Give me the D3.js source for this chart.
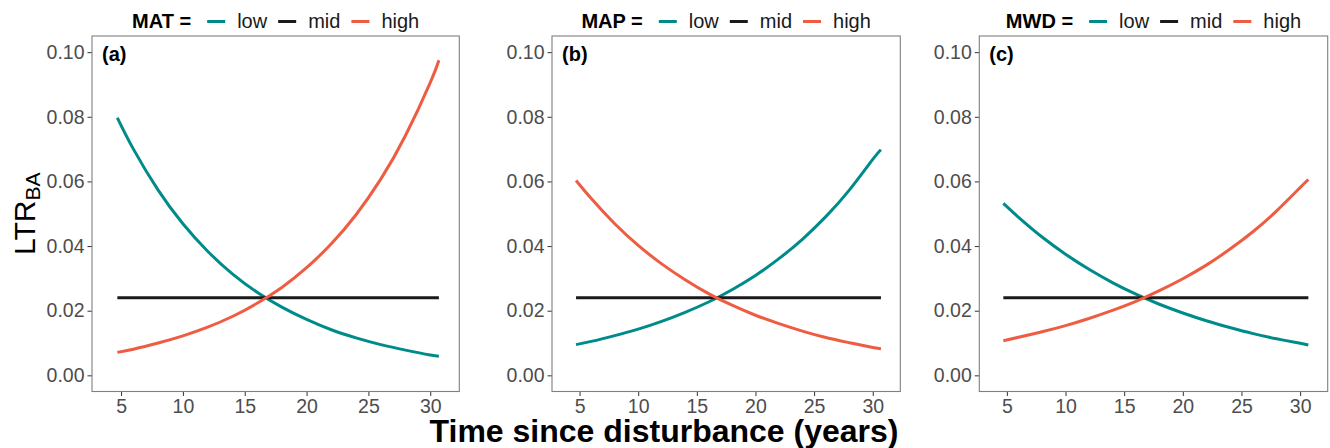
<!DOCTYPE html>
<html>
<head>
<meta charset="utf-8">
<script src="https://cdn.jsdelivr.net/npm/d3@7"></script>
<style>
  body { margin: 0; background: #fff; }
  text { font-family: "Liberation Sans", Arial, sans-serif; }
</style>
</head>
<body>
<div id="container"></div>
<script>
// Data
var years = [4.7, 6, 8, 10, 12, 14, 16, 18, 20, 22, 24, 26, 28, 30, 30.7];
var levels = ["low", "mid", "high"];
var drivers = ["MAT", "MAP", "MWD"];
var panelLabels = ["(a)", "(b)", "(c)"];

var matLow  = [0.0797, 0.0700, 0.0573, 0.0469, 0.0384, 0.0314, 0.0257, 0.0211, 0.0173, 0.0141, 0.0116, 0.0095, 0.0078, 0.0063, 0.0059];
var matMid  = [0.024, 0.024, 0.024, 0.024, 0.024, 0.024, 0.024, 0.024, 0.024, 0.024, 0.024, 0.024, 0.024, 0.024, 0.024];
var matHigh = [0.0071, 0.0081, 0.0100, 0.0122, 0.0149, 0.0182, 0.0223, 0.0272, 0.0333, 0.0407, 0.0497, 0.0607, 0.0742, 0.0906, 0.0975];

var mapLow  = [0.0095, 0.0105, 0.0123, 0.0143, 0.0167, 0.0195, 0.0227, 0.0265, 0.0309, 0.0361, 0.0421, 0.0491, 0.0573, 0.0668, 0.0698];
var mapMid  = [0.024, 0.024, 0.024, 0.024, 0.024, 0.024, 0.024, 0.024, 0.024, 0.024, 0.024, 0.024, 0.024, 0.024, 0.024];
var mapHigh = [0.0603, 0.0547, 0.0469, 0.0402, 0.0345, 0.0296, 0.0253, 0.0217, 0.0186, 0.0160, 0.0137, 0.0117, 0.0101, 0.0086, 0.0082];

var mwdLow  = [0.0532, 0.0489, 0.0428, 0.0375, 0.0328, 0.0287, 0.0251, 0.0220, 0.0193, 0.0169, 0.0148, 0.0129, 0.0113, 0.0099, 0.0094];
var mwdMid  = [0.024, 0.024, 0.024, 0.024, 0.024, 0.024, 0.024, 0.024, 0.024, 0.024, 0.024, 0.024, 0.024, 0.024, 0.024];
var mwdHigh = [0.0107, 0.0118, 0.0135, 0.0154, 0.0176, 0.0201, 0.0229, 0.0262, 0.0299, 0.0341, 0.0390, 0.0445, 0.0509, 0.0581, 0.0606];

var xTicks = [5, 10, 15, 20, 25, 30];
var yTicks = [0, 0.02, 0.04, 0.06, 0.08, 0.10];

var seriesByPanel = [
    [matLow, matMid, matHigh],
    [mapLow, mapMid, mapHigh],
    [mwdLow, mwdMid, mwdHigh]
];

// Layout
var width = 1330,
    height = 448;
var panelTop = 36,
    panelBottom = 391.5;
var panelEdges = [[92, 459.3], [552, 900.3], [979.3, 1327.7]];
var colors = { low: "#008B8B", mid: "#1A1A1A", high: "#EE5C42" };

var svg = d3.select("#container")
    .append("svg")
    .attr("width", width)
    .attr("height", height);

var yScale = d3.scaleLinear()
    .domain([-0.005, 0.105])
    .range([panelBottom, panelTop]);

var line = d3.line()
    .curve(d3.curveNatural);

drivers.forEach(function(driver, p) {
    var left = panelEdges[p][0],
        right = panelEdges[p][1];

    var xScale = d3.scaleLinear()
        .domain([2.65, 32.35])
        .range([left, right]);

    var g = svg.append("g");

    // Axes
    var xAxis = g.append("g")
        .attr("transform", "translate(0," + panelBottom + ")")
        .call(d3.axisBottom(xScale).tickValues(xTicks).tickSize(4.5).tickPadding(3).tickFormat(d3.format("d")));
    var yAxis = g.append("g")
        .attr("transform", "translate(" + left + ",0)")
        .call(d3.axisLeft(yScale).tickValues(yTicks).tickSize(4.5).tickPadding(3).tickFormat(d3.format(".2f")));

    [xAxis, yAxis].forEach(function(ax) {
        ax.select(".domain").remove();
        ax.selectAll(".tick line").attr("stroke", "#333333").attr("stroke-width", 1);
        ax.selectAll(".tick text")
            .attr("fill", "#4D4D4D")
            .style("font-size", "19.5px")
            .style("font-family", "'Liberation Sans', Arial, sans-serif");
    });

    // Lines
    seriesByPanel[p].forEach(function(vals, s) {
        var pts = years.map(function(x, i) { return [xScale(x), yScale(vals[i])]; });
        g.append("path")
            .attr("d", line(pts))
            .attr("fill", "none")
            .attr("stroke", colors[levels[s]])
            .attr("stroke-width", 3);
    });

    // Panel border
    g.append("rect")
        .attr("x", left)
        .attr("y", panelTop)
        .attr("width", right - left)
        .attr("height", panelBottom - panelTop)
        .attr("fill", "none")
        .attr("stroke", "#7F7F7F")
        .attr("stroke-width", 1.1);

    // Panel label
    g.append("text")
        .attr("x", left + 10)
        .attr("y", panelTop + 25)
        .style("font-size", "20px")
        .style("font-weight", "bold")
        .text(panelLabels[p]);

    // Legend above each panel
    var leg = g.append("g");
    var cx = 0;
    var title = leg.append("text")
        .attr("x", 0)
        .attr("y", 28)
        .style("font-size", "20px")
        .style("font-weight", "bold")
        .text(driver + " =");
    cx = title.node().getComputedTextLength() + 16;
    levels.forEach(function(lv) {
        leg.append("line")
            .attr("x1", cx).attr("x2", cx + 18)
            .attr("y1", 21.5).attr("y2", 21.5)
            .attr("stroke", colors[lv])
            .attr("stroke-width", 3);
        cx += 30;
        var t = leg.append("text")
            .attr("x", cx)
            .attr("y", 28)
            .style("font-size", "20px")
            .attr("fill", "#1A1A1A")
            .text(lv);
        cx += t.node().getComputedTextLength() + 11;
    });
    var legW = cx - 11;
    leg.attr("transform", "translate(" + ((left + right) / 2 - legW / 2) + ",0)");
});

// Y axis title
var yTitle = svg.append("text")
    .attr("transform", "translate(35," + ((panelTop + panelBottom) / 2) + ") rotate(-90)")
    .attr("text-anchor", "middle")
    .attr("fill", "#000");
yTitle.append("tspan")
    .style("font-size", "30px")
    .text("LTR");
yTitle.append("tspan")
    .style("font-size", "21px")
    .attr("dy", 5)
    .text("BA");

// X axis title
svg.append("text")
    .attr("x", 664)
    .attr("y", 442)
    .attr("text-anchor", "middle")
    .style("font-size", "32px")
    .style("font-weight", "bold")
    .text("Time since disturbance (years)");
</script>
</body>
</html>
